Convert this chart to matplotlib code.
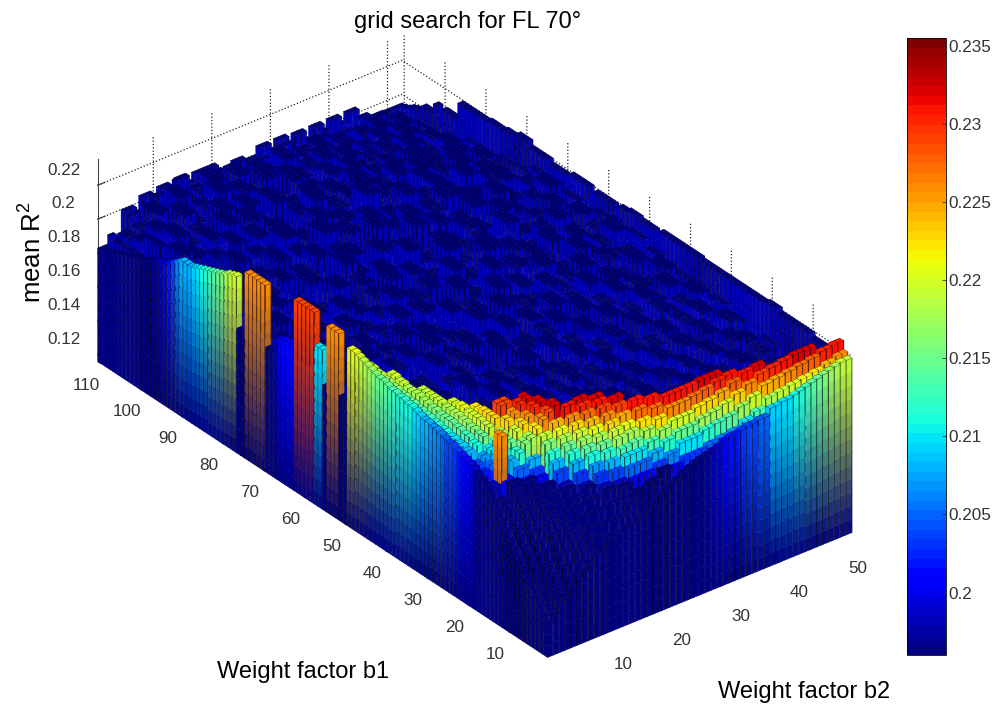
import numpy as np
import matplotlib
matplotlib.use('Agg')
import matplotlib.pyplot as plt
from matplotlib.cm import ScalarMappable
from matplotlib.colors import Normalize
from mpl_toolkits.mplot3d.art3d import Poly3DCollection

plt.rcParams['font.family'] = ['Liberation Sans', 'DejaVu Sans']
plt.rcParams['mathtext.default'] = 'regular'

# all heights, in units of 0.001 mean R2
# row along the b1 edge (b2 = 1), b1 = 1..110
front_b1 = [135,138,142,146,150,154,158,162,166,170,
            174,178,182,186,190,193,195,197,199,200,
            201,202,203,204,204,205,206,207,207,208,
            208,209,210,211,211,212,212,213,213,214,
            215,215,216,217,218,219,220,221,221,190,
            190,226,226,226,190,210,210,229,229,229,
            229,229,201,201,201,200,198,190,190,226,
            226,226,226,226,190,190,220,219,218,216,
            215,214,213,212,211,210,209,208,208,208,
            206,204,202,200,199,198,197,195,194,193,
            192,191,190,189,188,187,186,185,184,183]
# row along the b2 edge (b1 = 1), b2 = 1..52
front_b2 = [135,139,143,147,151,155,158,161,164,167,
            169,171,172,173,174,175,176,178,180,184,
            186,188,190,192,194,195,196,197,198,199,
            201,202,202,203,204,204,205,205,209,209,
            210,210,211,212,213,214,215,216,217,218,219,219]
# far edge at b1 = 110, b2 = 1..52
back_b1 = [183,183,183,183,200,200,196,204,204,199,
           205,205,200,206,206,201,205,205,205,205,
           201,200,200,200,200,200,200,205,205,200,
           205,205,199,204,204,198,204,204,199,204,
           204,199,204,204,198,198,190,195,195,195,195,195]
# far edge at b2 = 52, b1 = 4..110
back_b2 = [218,218,218,218,218,218,220,220,220,220,220,220,220,220,
           222,222,222,221,221,221,221,221,221,221,221,221,221,221,
           221,221,221,221,221,222,222,222,222,222,222,222,222,222,
           222,209,221,221,221,221,222,222,222,221,221,211,220,220,
           220,220,220,211,221,221,221,221,221,212,219,219,219,219,
           221,221,221,221,221,224,224,224,222,222,222,221,221,221,
           221,220,220,220,220,220,220,220,210,210,210,210,199,210,
           204,204,204,200,200,199,197,196,195]
# columns b2 = 1,3,..,51 (each for two bars), rows b1 = 1..14
ridge_b1 = [[135,140,145,150,155,160,165,168,172,175,178,182,185,187],
            [140,146,150,155,160,165,170,175,180,184,188,192,196,200],
            [150,155,160,165,170,174,178,182,186,190,193,196,200,205],
            [155,160,165,170,174,178,182,186,190,194,197,200,203,208],
            [160,165,170,175,180,184,188,192,198,204,208,212,216,219],
            [165,170,176,182,188,193,198,203,208,212,215,218,221,224],
            [170,178,186,192,198,203,207,211,214,217,220,223,226,231],
            [174,184,193,199,204,208,212,215,218,221,224,227,230,232],
            [176,190,200,205,210,213,217,220,223,226,229,231,232,189],
            [180,192,200,205,210,214,218,221,225,229,232,190,189,188],
            [186,196,203,208,213,218,222,227,231,190,188,189,190,188],
            [191,200,206,212,217,222,227,231,189,188,190,189,188,189],
            [194,203,210,215,220,226,231,190,189,188,189,190,188,190],
            [196,203,210,215,220,226,231,190,188,190,189,188,189,190],
            [198,205,212,217,222,227,231,190,189,188,189,190,188,189],
            [199,206,213,218,223,228,232,189,188,190,189,188,190,189],
            [200,207,214,220,225,230,232,188,189,190,188,189,190,188],
            [201,210,217,223,228,231,189,190,188,189,190,189,188,190],
            [202,213,220,226,231,190,188,189,190,188,189,190,189,188],
            [208,218,224,229,232,189,190,188,189,190,188,189,190,189],
            [210,219,225,230,190,188,189,190,188,190,189,188,189,190],
            [211,220,226,231,189,190,188,189,190,188,189,190,188,189],
            [213,221,227,232,190,188,189,190,188,189,190,188,189,190],
            [215,222,228,232,189,190,188,189,190,189,188,190,189,188],
            [217,224,230,190,188,189,190,188,189,190,188,189,190,189],
            [219,226,231,189,190,188,189,190,188,189,190,188,190,189]]
# rows b1 = 15-16, 17-18, .. 47-48, columns b2 = 1..12
ridge_b2 = [[195,198,226,200,208,212,216,218,222,226,229,232],
            [198,202,205,208,211,215,220,223,226,230,232,190],
            [200,204,207,210,213,217,223,226,230,232,190,189],
            [202,208,211,215,219,223,229,229,190,189,190,189],
            [204,209,213,216,220,223,190,189,190,189,190,189],
            [205,210,214,217,220,222,189,190,189,190,189,190],
            [207,211,215,218,221,190,189,190,189,190,189,190],
            [208,212,215,218,220,189,190,189,190,189,190,189],
            [209,213,216,219,190,189,190,189,190,189,190,189],
            [211,214,217,219,189,190,189,190,189,190,189,190],
            [212,215,218,219,190,189,190,189,190,189,190,189],
            [213,216,218,190,189,190,189,190,189,190,189,190],
            [214,217,219,189,190,189,190,189,190,189,190,189],
            [215,218,220,190,189,190,189,190,189,190,189,190],
            [217,219,190,189,190,189,190,189,190,189,190,189],
            [218,220,189,190,189,190,189,190,189,190,189,190],
            [220,190,189,190,189,190,189,190,189,190,189,190]]
# dark plateau from b1 = 13 on, rows are 4 b1 wide, columns are 2 b2 wide
plateau = [[187,190,186,189,192,188,191,187,193,190,188,194,191,189,195,192,190,196,193,197,194,199,195,193,198,196],
           [190,186,191,188,187,193,189,192,188,194,191,190,196,192,189,197,193,195,199,194,198,196,201,197,200,203],
           [186,192,189,193,190,187,194,190,195,189,196,192,191,198,194,197,192,199,196,201,195,203,198,205,201,199],
           [191,188,194,187,193,195,188,196,191,193,190,198,194,192,200,195,199,193,202,197,204,200,206,199,207,204],
           [189,193,187,195,190,192,197,189,194,198,192,195,200,193,197,202,194,203,198,200,206,197,204,209,202,208],
           [192,187,196,191,194,188,193,199,190,196,201,193,197,195,203,196,200,205,199,207,201,209,203,206,211,205],
           [188,195,190,193,198,192,200,191,197,193,195,202,194,204,197,199,206,198,208,202,204,210,205,212,203,209],
           [194,189,197,192,190,199,194,196,201,192,205,195,199,197,202,207,196,209,201,205,211,203,207,204,213,208],
           [190,196,188,198,195,193,201,193,198,203,194,200,206,196,204,198,208,200,203,212,202,209,205,214,206,211],
           [195,191,199,190,197,202,192,204,195,199,197,207,193,209,199,203,201,210,204,206,213,201,211,208,207,215],
           [192,198,193,200,189,196,205,194,200,196,208,198,203,196,211,200,206,199,212,205,203,214,207,210,216,209],
           [197,190,201,194,199,192,198,207,193,204,199,197,210,201,198,213,202,208,204,207,215,204,212,206,209,214],
           [191,199,195,189,203,197,194,200,209,196,202,206,195,212,203,200,215,201,209,205,202,211,216,207,213,208],
           [198,193,200,197,192,205,199,195,202,211,194,208,201,199,214,204,207,210,199,216,206,203,209,215,205,212],
           [193,201,191,204,198,195,208,196,204,198,206,193,213,203,200,209,205,212,208,202,214,210,204,211,217,206],
           [200,194,202,196,193,207,200,197,210,201,195,209,204,198,216,202,211,199,206,213,205,215,208,203,210,214],
           [195,203,192,199,205,194,202,211,198,206,203,196,214,200,207,212,204,209,215,201,208,206,213,211,204,209],
           [201,196,204,193,200,208,197,205,199,213,194,207,202,210,199,205,216,203,207,211,204,213,200,209,206,208],
           [194,202,198,206,195,203,200,209,196,202,212,198,205,201,215,197,208,206,199,210,202,205,211,203,208,204],
           [203,197,193,201,208,196,206,199,204,195,207,214,199,203,206,211,200,204,209,198,207,203,201,206,202,205],
           [196,204,199,194,202,210,195,207,201,212,197,203,208,195,204,200,206,198,202,205,199,204,200,197,203,199],
           [204,192,205,197,200,195,209,198,206,200,204,196,210,202,198,205,199,203,197,201,204,198,202,196,199,195],
           [190,196,201,195,206,198,203,211,197,205,200,208,195,203,199,201,205,197,200,194,198,202,195,199,193,196],
           [189,192,194,203,197,207,199,202,208,196,206,199,202,197,204,195,199,202,194,198,192,197,200,193,196,191],
           [191,188,198,196,204,194,208,200,203,197,202,205,196,200,195,203,193,197,199,192,196,190,194,198,189,193]]

b1_ticks = [10, 20, 30, 40, 50, 60, 70, 80, 90, 100, 110]
b2_ticks = [10, 20, 30, 40, 50]
z_ticks = [0.12, 0.14, 0.16, 0.18, 0.2, 0.22]
cbar_ticks = [0.2, 0.205, 0.21, 0.215, 0.22, 0.225, 0.23, 0.235]

z_floor = 0.116
z_top = 0.2355
c_low = 0.196
ridge_lift = 0.005

# put the pieces together
vals = np.zeros((110, 52))
dark = np.ones(vals.shape, dtype=bool)
vals[12:110, :] = np.repeat(np.repeat(np.array(plateau), 4, axis=0), 2, axis=1)[:98, :]
vals[:14, :] = np.repeat(np.array(ridge_b1).T, 2, axis=1)
vals[14:48, :12] = np.repeat(np.array(ridge_b2), 2, axis=0)
dark[:14, :] = False
dark[14:48, :12] = False
vals[3:, 51] = back_b2
dark[3:, 51] = True
vals[109, :] = back_b1
vals = vals / 1000.0
# colours of the ridge run a little ahead of its height in the picture
heights = vals - ridge_lift * ((~dark) & (vals > c_low))
vals[:, 0] = np.array(front_b1) / 1000.0
vals[0, :] = np.array(front_b2) / 1000.0
heights[:, 0] = vals[:, 0]
heights[0, :] = vals[0, :]
dark[:, 0] = False
dark[0, :] = False

cmap = plt.get_cmap('jet', 64)
norm = Normalize(c_low, z_top)
colour_vals = np.where(dark, np.minimum(vals, c_low), vals)
side_vals = np.where(dark, 0.198, vals)
navy = np.array(cmap(0.0)[:3])

polys = []
faces = []
edges = []


def add_side(p0, p1, low, high, top_z, top_col):
    # one side of a bar, cut in bands so the colour runs up to the top
    n = max(1, int(np.ceil((high - low) / 0.008)))
    lev = np.linspace(low, high, n + 1)
    mid = 0.84
    pm = (p0[0] + (p1[0] - p0[0]) * mid, p0[1] + (p1[1] - p0[1]) * mid)
    for k in range(n):
        t = ((lev[k] + lev[k + 1]) / 2 - z_floor) / (top_z - z_floor)
        col = navy + (top_col - navy) * t
        col = tuple(col) + (1.0,)
        polys.append([(p0[0], p0[1], lev[k]), (pm[0], pm[1], lev[k]),
                      (pm[0], pm[1], lev[k + 1]), (p0[0], p0[1], lev[k + 1])])
        faces.append(col)
        edges.append(col)
        shade = tuple(np.array(col[:3]) * 0.3) + (1.0,)
        polys.append([(pm[0], pm[1], lev[k]), (p1[0], p1[1], lev[k]),
                      (p1[0], p1[1], lev[k + 1]), (pm[0], pm[1], lev[k + 1])])
        faces.append(shade)
        edges.append(shade)


for i in range(110):
    for j in range(52):
        h = heights[i, j]
        col = np.array(cmap(norm(colour_vals[i, j]))[:3])
        s_col = np.array(cmap(norm(side_vals[i, j]))[:3])
        x0, x1 = j + 0.5, j + 1.5
        y0, y1 = i + 0.5, i + 1.5
        # only the two sides that face the viewer, and only above the neighbour
        n_y = heights[i - 1, j] if i > 0 else z_floor
        n_x = heights[i, j - 1] if j > 0 else z_floor
        if h > n_y:
            add_side((x0, y0), (x1, y0), n_y, h, h, s_col)
        if h > n_x:
            add_side((x0, y1), (x0, y0), n_x, h, h, s_col)
        polys.append([(x0, y0, h), (x1, y0, h), (x1, y1, h), (x0, y1, h)])
        faces.append(tuple(col) + (1.0,))
        edges.append(tuple(col * 0.35) + (1.0,))

fig = plt.figure(figsize=(9.95, 7.1), dpi=100)
ax = fig.add_axes([0.018, 0.02, 0.90, 0.96], projection='3d')
ax.set_proj_type('ortho')
ax.view_init(elev=31.3, azim=-128.3)
ax.set_box_aspect((388, 726, 237), zoom=1.22)

bars = Poly3DCollection(polys, facecolors=faces, edgecolors=edges, linewidths=0.3, zsort='average')
ax.add_collection3d(bars)
bars.set_clip_on(False)

ax.set_xlim(0.5, 52.5)
ax.set_ylim(0.5, 110.5)
ax.set_zlim(z_floor, z_top)
ax.set_xticks(b2_ticks)
ax.set_yticks(b1_ticks)
ax.set_zticks(z_ticks)
ax.set_zticklabels(['0.12', '0.14', '0.16', '0.18', '0.2', '0.22'])
ax.tick_params(labelsize=12.3, colors='#333333')
for t in ax.get_zticklabels():
    t.set_va('bottom')
for a in (ax.xaxis, ax.yaxis, ax.zaxis):
    a.set_pane_color((1, 1, 1, 0))
    a.pane.set_edgecolor((1, 1, 1, 0))
    a._axinfo['grid'].update(color='#222222', linestyle=':', linewidth=0.9)
    a._axinfo['tick'].update(inward_factor=0.0, outward_factor=0.3)
ax.xaxis.line.set_color((1, 1, 1, 0))
ax.yaxis.line.set_color((1, 1, 1, 0))
ax.zaxis.line.set_color('#444444')

fig.text(468 / 995, 1 - 22 / 710, 'grid search for FL 70°', fontsize=17, ha='center', va='center')
fig.text(33 / 995, 1 - 252 / 710, 'mean R$^2$', fontsize=18.5, rotation=90, ha='center', va='center')
fig.text(303.5 / 995, 1 - 672 / 710, 'Weight factor b1', fontsize=17, ha='center', va='center')
fig.text(804 / 995, 1 - 692 / 710, 'Weight factor b2', fontsize=17, ha='center', va='center')

cax = fig.add_axes([907 / 995, 1 - 655 / 710, 39 / 995, 617 / 710])
cb = fig.colorbar(ScalarMappable(norm=norm, cmap=cmap), cax=cax)
cb.set_ticks(cbar_ticks)
cb.set_ticklabels(['0.2', '0.205', '0.21', '0.215', '0.22', '0.225', '0.23', '0.235'])
cb.ax.tick_params(labelsize=12.3, direction='in', length=3, width=0.6, colors='#333333', pad=2)
cb.outline.set_linewidth(0.6)

fig.savefig('out.png', dpi=100)
